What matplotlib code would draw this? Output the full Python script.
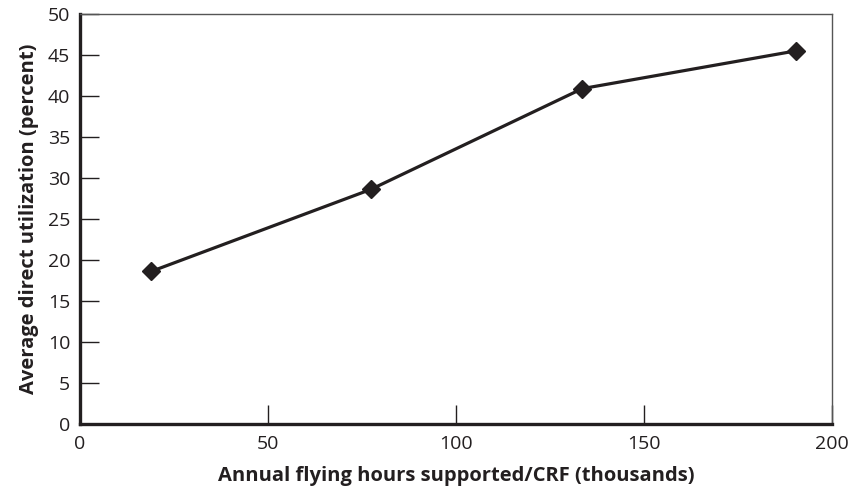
import matplotlib
matplotlib.use("Agg")
import matplotlib.pyplot as plt

flying_hours = [18.9, 77.3, 133.6, 190.4]
utilization = [18.6, 28.6, 40.9, 45.5]
x_ticks = [0, 50, 100, 150, 200]
y_ticks = [0, 5, 10, 15, 20, 25, 30, 35, 40, 45, 50]

plt.rcParams['font.family'] = ['Open Sans', 'DejaVu Sans']
ink = '#231f20'

fig = plt.figure(figsize=(8.54, 4.98), dpi=100)
ax = fig.add_axes([0.0937, 0.1486, 0.8805, 0.8233])

ax.plot(flying_hours, utilization, color=ink, lw=2.3, marker='D', ms=9.5,
        mfc=ink, mec=ink, zorder=3)

ax.set_xlim(0, 200)
ax.set_ylim(0, 50)
ax.set_xticks(x_ticks)
ax.set_yticks(y_ticks)
ax.tick_params(direction='in', length=14, width=1, color=ink,
               labelsize=14, labelcolor=ink)
ax.tick_params(axis='x', pad=8)
ax.tick_params(axis='y', pad=7)

for s in ['left', 'bottom']:
    ax.spines[s].set_linewidth(2.4)
    ax.spines[s].set_color(ink)
for s in ['top', 'right']:
    ax.spines[s].set_linewidth(1)
    ax.spines[s].set_color('#555555')

ax.set_xlabel('Annual flying hours supported/CRF (thousands)', fontsize=14.5,
              fontweight='bold', color=ink, labelpad=9)
ax.set_ylabel('Average direct utilization (percent)', fontsize=14.5,
              fontweight='bold', color=ink, labelpad=6)

fig.savefig('out.png', dpi=100)
